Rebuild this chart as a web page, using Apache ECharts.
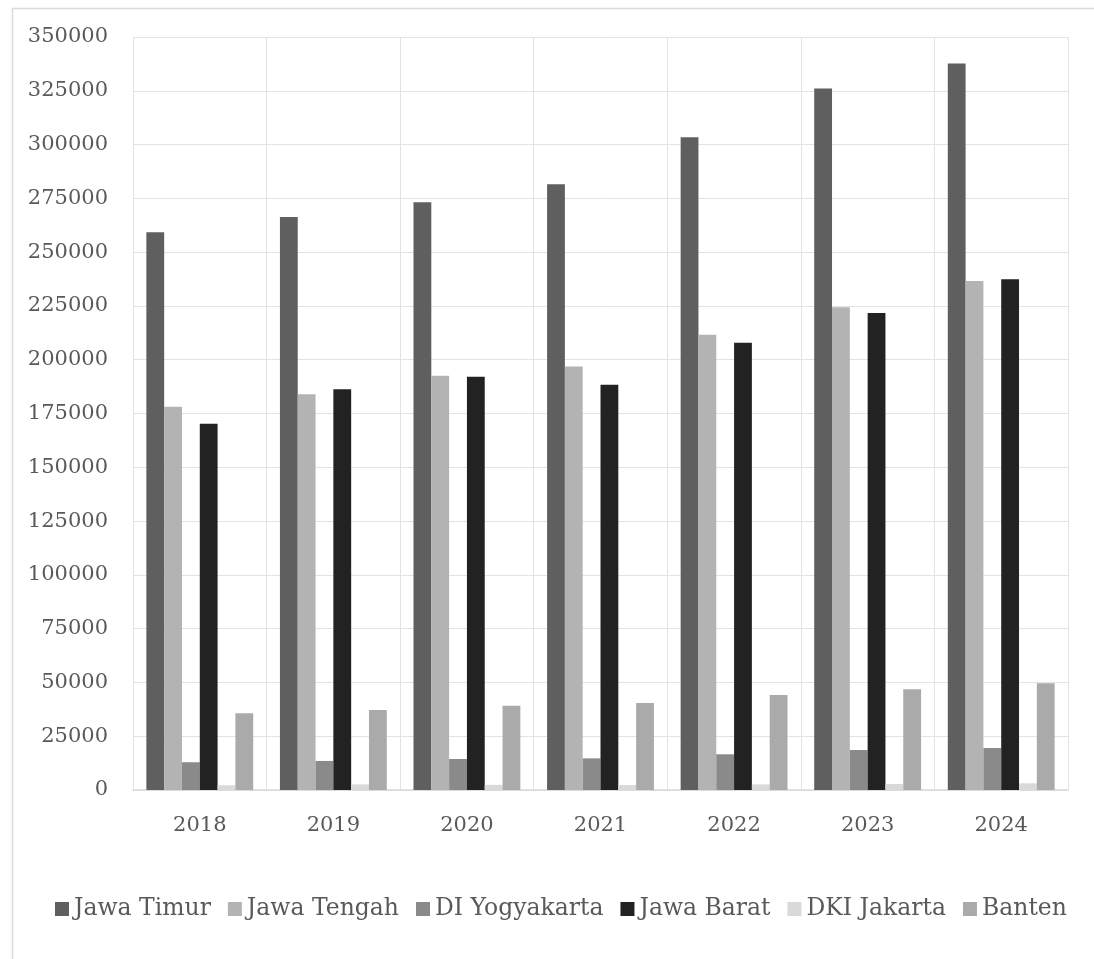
<!DOCTYPE html>
<html>
<head>
<meta charset="utf-8">
<script src="https://cdn.jsdelivr.net/npm/echarts@6/dist/echarts.min.js"></script>
<style>
html,body{margin:0;padding:0;background:#fff;}
#c{width:1094px;height:959px;}
</style>
</head>
<body>
<div id="c"></div>
<script>
const categories = ['2018','2019','2020','2021','2022','2023','2024'];
const seriesNames = ['Jawa Timur','Jawa Tengah','DI Yogyakarta','Jawa Barat','DKI Jakarta','Banten'];
const jawaTimur   = [259300, 266300, 273200, 281500, 303400, 326100, 337700];
const jawaTengah  = [178100, 183900, 192600, 196900, 211600, 224400, 236600];
const diYogyakarta= [12900, 13500, 14400, 14700, 16600, 18600, 19500];
const jawaBarat   = [170200, 186300, 192100, 188400, 207900, 221700, 237400];
const dkiJakarta  = [2200, 2600, 2400, 2300, 2600, 2800, 3100];
const banten      = [35700, 37200, 39200, 40400, 44200, 46800, 49600];
const yTicks = {min: 0, max: 350000, interval: 25000};

const colors = ['#5f5f5f','#b3b3b3','#8a8a8a','#222222','#d9d9d9','#aaaaaa'];
const values = [jawaTimur, jawaTengah, diYogyakarta, jawaBarat, dkiJakarta, banten];
const font = 'DejaVu Serif';

const chart = echarts.init(document.getElementById('c'), null, {renderer:'canvas'});
chart.setOption({
  animation: false,
  backgroundColor: '#ffffff',
  color: colors,
  graphic: [{
    type: 'rect', left: 10, top: 6, z: -1,
    shape: {width: 1083, height: 952},
    style: {fill: 'none', stroke: '#d9d9d9', lineWidth: 1.5}
  }],
  grid: {left: 133, right: 26, top: 37, bottom: 169, containLabel: false},
  legend: {
    top: 892, left: 50,
    itemWidth: 14, itemHeight: 14, itemGap: 17,
    icon: 'rect',
    textStyle: {fontFamily: font, fontSize: 23.5, color: '#595959'},
    data: seriesNames
  },
  xAxis: {
    type: 'category', data: categories,
    axisLine: {show: true, lineStyle: {color: '#d9d9d9', width: 1.5}},
    axisTick: {show: false},
    splitLine: {show: true, lineStyle: {color: '#e3e3e3', width: 1}},
    axisLabel: {fontFamily: font, fontSize: 21, color: '#595959', margin: 25}
  },
  yAxis: {
    type: 'value', min: yTicks.min, max: yTicks.max, interval: yTicks.interval,
    axisLine: {show: true, lineStyle: {color: '#e3e3e3'}},
    axisTick: {show: false},
    splitLine: {show: true, lineStyle: {color: '#e3e3e3', width: 1}},
    axisLabel: {fontFamily: font, fontSize: 21, color: '#595959', margin: 25,
      formatter: v => String(v)}
  },
  series: seriesNames.map((n, i) => ({
    name: n, type: 'bar', data: values[i],
    barGap: '0%', barCategoryGap: '20%',
    itemStyle: {color: colors[i]}
  }))
});
</script>
</body>
</html>
